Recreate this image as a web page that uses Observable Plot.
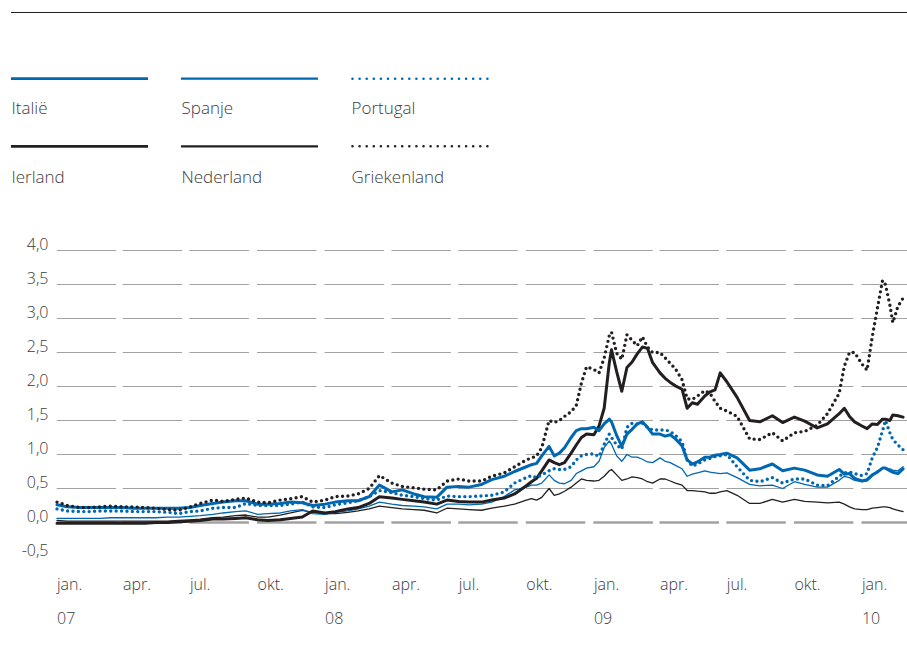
<!DOCTYPE html>
<html><head><meta charset="utf-8">
<script src="https://cdn.jsdelivr.net/npm/d3@7"></script>
<script src="https://cdn.jsdelivr.net/npm/@observablehq/plot@0.6"></script>
<style>
body{margin:0;background:#fff;}
#page{position:relative;width:907px;height:650px;overflow:hidden;font-family:"Open Sans",sans-serif;font-weight:300;color:#3c3c3c;}
#toprule{position:absolute;left:11px;top:12px;width:896px;height:0;border-top:1.2px solid #231f20;}
#legend{position:absolute;left:0;top:0;}
#chart{position:absolute;left:0;top:230px;}
</style></head><body>
<div id="page"><div id="toprule"></div><div id="legend"></div><div id="chart"></div></div>
<script>
// ---- data ----
const dates = [
 "2007-01-01","2007-01-15","2007-02-01","2007-02-15","2007-03-01","2007-03-15","2007-04-01","2007-04-15","2007-05-01","2007-05-15","2007-06-01","2007-06-15","2007-07-01","2007-07-15","2007-08-01","2007-08-15","2007-09-01","2007-09-15","2007-10-01","2007-10-15","2007-11-01","2007-11-15","2007-12-01","2007-12-15",
 "2008-01-01","2008-01-15","2008-02-01","2008-02-15","2008-03-01","2008-03-15","2008-04-01","2008-04-15","2008-05-01","2008-05-15","2008-06-01","2008-06-15","2008-07-01","2008-07-15","2008-08-01","2008-08-15","2008-09-01","2008-09-15",
 "2008-10-01","2008-10-08","2008-10-15","2008-10-22","2008-11-01","2008-11-08","2008-11-15","2008-11-22","2008-12-01","2008-12-08","2008-12-15","2008-12-22",
 "2009-01-01","2009-01-08","2009-01-15","2009-01-22","2009-01-25","2009-02-01","2009-02-08","2009-02-15","2009-02-22","2009-03-01","2009-03-08","2009-03-15","2009-03-22","2009-04-01","2009-04-08","2009-04-15","2009-04-22","2009-05-01","2009-05-08","2009-05-15","2009-05-22","2009-06-01","2009-06-08","2009-06-15","2009-06-22",
 "2009-07-01","2009-07-15","2009-08-01","2009-08-15","2009-09-01","2009-09-15","2009-10-01","2009-10-15","2009-11-01","2009-11-15",
 "2009-12-01","2009-12-08","2009-12-15","2009-12-22",
 "2010-01-01","2010-01-08","2010-01-15","2010-01-22","2010-01-29","2010-02-02","2010-02-08","2010-02-12","2010-02-19","2010-02-26"
];
const italie = [
 0.26,0.23,0.22,0.22,0.22,0.22,0.22,0.21,0.21,0.21,0.21,0.21,0.22,0.25,0.28,0.30,0.32,0.32,0.27,0.27,0.28,0.30,0.29,0.25,
 0.27,0.30,0.32,0.32,0.38,0.55,0.45,0.48,0.42,0.38,0.37,0.52,0.53,0.52,0.56,0.63,0.68,0.75,
 0.82,0.85,0.87,0.98,1.12,0.98,1.02,1.10,1.25,1.35,1.38,1.38,
 1.40,1.35,1.45,1.52,1.48,1.28,1.12,1.30,1.37,1.45,1.48,1.40,1.30,1.30,1.27,1.29,1.23,1.13,0.92,0.86,0.89,0.96,0.96,0.99,1.00,
 1.02,0.95,0.77,0.79,0.86,0.76,0.80,0.77,0.70,0.68,
 0.78,0.71,0.72,0.65,
 0.61,0.63,0.70,0.74,0.80,0.80,0.76,0.74,0.72,0.79
];
const spanje = [
 0.06,0.06,0.06,0.06,0.06,0.07,0.07,0.07,0.07,0.07,0.08,0.08,0.09,0.10,0.12,0.14,0.16,0.17,0.12,0.13,0.14,0.17,0.19,0.13,
 0.12,0.15,0.17,0.20,0.24,0.30,0.27,0.25,0.24,0.23,0.20,0.27,0.27,0.26,0.27,0.30,0.38,0.48,
 0.52,0.55,0.55,0.58,0.70,0.62,0.58,0.57,0.62,0.72,0.76,0.80,
 0.82,0.90,1.10,1.20,1.15,0.98,0.90,1.00,0.96,0.96,0.93,0.89,0.88,0.95,0.90,0.88,0.84,0.79,0.68,0.71,0.73,0.76,0.74,0.73,0.72,
 0.73,0.66,0.56,0.54,0.55,0.50,0.60,0.56,0.52,0.52,
 0.62,0.68,0.66,0.62,
 0.60,0.61,0.68,0.76,0.80,0.80,0.79,0.77,0.76,0.82
];
const portugal = [
 0.20,0.17,0.16,0.16,0.17,0.17,0.17,0.16,0.16,0.16,0.15,0.13,0.16,0.17,0.21,0.22,0.22,0.28,0.25,0.25,0.25,0.27,0.30,0.23,
 0.22,0.26,0.29,0.32,0.38,0.47,0.44,0.40,0.38,0.35,0.33,0.39,0.38,0.38,0.39,0.40,0.45,0.58,
 0.66,0.69,0.66,0.70,0.76,0.79,0.78,0.78,0.82,0.92,0.98,1.00,
 1.01,0.97,1.15,1.30,1.25,1.14,1.08,1.40,1.46,1.45,1.46,1.40,1.36,1.36,1.36,1.34,1.28,1.19,0.92,0.83,0.86,0.92,0.94,0.97,0.98,
 1.00,0.82,0.62,0.60,0.66,0.58,0.64,0.64,0.55,0.54,
 0.68,0.73,0.74,0.72,
 0.69,0.72,0.95,1.10,1.35,1.50,1.32,1.22,1.14,1.07
];
const ierland = [
 -0.01,-0.01,-0.01,-0.01,-0.01,-0.01,-0.01,-0.01,-0.01,0.00,0.00,0.01,0.02,0.03,0.05,0.05,0.06,0.07,0.04,0.03,0.04,0.06,0.08,0.17,
 0.14,0.16,0.20,0.22,0.28,0.38,0.36,0.34,0.32,0.30,0.27,0.33,0.31,0.30,0.30,0.33,0.36,0.42,
 0.54,0.60,0.65,0.76,0.92,0.88,0.85,0.88,1.02,1.14,1.25,1.30,
 1.29,1.42,1.68,2.35,2.54,2.22,1.93,2.28,2.36,2.48,2.58,2.56,2.35,2.20,2.12,2.06,2.01,1.96,1.68,1.76,1.74,1.86,1.92,1.95,2.20,
 2.07,1.84,1.50,1.48,1.57,1.47,1.55,1.49,1.39,1.45,
 1.60,1.68,1.56,1.48,
 1.42,1.38,1.45,1.44,1.52,1.52,1.50,1.58,1.57,1.55
];
const nederland = [
 0.03,0.02,0.02,0.02,0.02,0.02,0.02,0.02,0.02,0.02,0.02,0.03,0.04,0.05,0.07,0.08,0.10,0.11,0.08,0.08,0.11,0.14,0.18,0.15,
 0.13,0.13,0.15,0.17,0.20,0.24,0.22,0.20,0.19,0.18,0.14,0.21,0.20,0.19,0.18,0.21,0.24,0.27,
 0.33,0.35,0.33,0.37,0.50,0.40,0.42,0.46,0.52,0.58,0.64,0.62,
 0.61,0.62,0.68,0.76,0.78,0.70,0.62,0.64,0.67,0.66,0.64,0.60,0.58,0.64,0.64,0.61,0.58,0.55,0.47,0.47,0.46,0.45,0.43,0.43,0.45,
 0.47,0.40,0.28,0.28,0.34,0.30,0.34,0.31,0.30,0.29,
 0.30,0.27,0.23,0.20,
 0.19,0.19,0.21,0.22,0.23,0.23,0.22,0.20,0.18,0.16
];
const griekenland = [
 0.30,0.25,0.22,0.22,0.23,0.24,0.23,0.23,0.22,0.21,0.19,0.18,0.23,0.28,0.33,0.31,0.34,0.36,0.30,0.29,0.33,0.35,0.38,0.30,
 0.33,0.38,0.39,0.42,0.50,0.69,0.58,0.53,0.51,0.49,0.48,0.61,0.64,0.61,0.61,0.68,0.73,0.82,
 0.92,0.95,0.98,1.10,1.50,1.47,1.50,1.56,1.63,1.72,2.05,2.29,
 2.25,2.20,2.42,2.75,2.80,2.49,2.40,2.76,2.68,2.60,2.73,2.58,2.50,2.50,2.42,2.34,2.26,2.10,1.82,1.81,1.86,1.94,1.90,1.78,1.68,
 1.64,1.56,1.23,1.22,1.32,1.20,1.32,1.34,1.43,1.60,
 1.90,2.30,2.50,2.50,
 2.33,2.24,2.73,3.15,3.56,3.50,3.20,2.94,3.18,3.30
];
const yTicks = [-0.5, 0.0, 0.5, 1.0, 1.5, 2.0, 2.5, 3.0, 3.5, 4.0];
const monthLabels = ["jan.", "apr.", "jul.", "okt."];
const yearLabels = ["07", "08", "09", "10"];
const seriesNames = ["Italië", "Spanje", "Portugal", "Ierland", "Nederland", "Griekenland"];

// ---- styles ----
const BLUE = "#0067b1", BLACK = "#231f20";
const styles = {
  "Italië":      {stroke: BLUE,  width: 3,   dotted: false},
  "Spanje":      {stroke: BLUE,  width: 1.3, dotted: false},
  "Portugal":    {stroke: BLUE,  width: 3.4, dotted: true},
  "Ierland":     {stroke: BLACK, width: 3,   dotted: false},
  "Nederland":   {stroke: BLACK, width: 1.3, dotted: false},
  "Griekenland": {stroke: BLACK, width: 3.4, dotted: true}
};
const valuesBy = {"Italië": italie, "Spanje": spanje, "Portugal": portugal, "Ierland": ierland, "Nederland": nederland, "Griekenland": griekenland};

const parse = d3.utcParse("%Y-%m-%d");
const rows = vals => dates.map((d, i) => ({date: parse(d), value: vals[i]}));

// ---- legend ----
const legendW = {"Italië": 2.8, "Spanje": 2.2, "Ierland": 2.8, "Nederland": 2.2, "Portugal": 2.6, "Griekenland": 2.6};
const lsvg = d3.select("#legend").append("svg").attr("width", 907).attr("height", 200)
  .style("font-family", '"Open Sans", sans-serif').style("font-size", "17px").style("font-weight", 300);
seriesNames.forEach((name, i) => {
  const col = i % 3, row = Math.floor(i / 3);
  const x0 = 11 + col * 170, yl = 78.7 + row * 67.6, yt = 114 + row * 68.5;
  const st = styles[name];
  const ln = lsvg.append("line").attr("x1", st.dotted ? x0 + 1.5 : x0).attr("x2", x0 + 137)
    .attr("y1", yl).attr("y2", yl).attr("stroke", st.stroke).attr("stroke-width", legendW[name]);
  if (st.dotted) ln.attr("stroke-dasharray", "0,7.1").attr("stroke-linecap", "round");
  lsvg.append("text").attr("x", x0 + 0.5).attr("y", yt).attr("fill", "#3c3c3c").text(name);
});

// ---- chart ----
const start = parse("2007-01-01"), end = parse("2010-03-04");
const quarterStarts = d3.utcMonths(start, end, 3);
const jans = d3.utcYears(start, end);
const grid = yTicks.flatMap(v => quarterStarts.map(q => ({y: v, x1: q, x2: d3.utcDay.offset(q, 81)})));

const order = ["Nederland", "Spanje", "Ierland", "Italië", "Portugal", "Griekenland"];
const lineMarks = order.map(name => {
  const st = styles[name];
  return Plot.line(rows(valuesBy[name]), {
    x: "date", y: "value", stroke: st.stroke, strokeWidth: st.width,
    strokeLinejoin: "round", strokeLinecap: "round",
    strokeDasharray: st.dotted ? "0,5.4" : null
  });
});

const chart = Plot.plot({
  width: 907, height: 420,
  marginLeft: 56.5, marginRight: 0, marginTop: 20, marginBottom: 94,
  x: {type: "utc", domain: [start, end]},
  y: {domain: [-0.5, 4.0]},
  style: {fontFamily: '"Open Sans", sans-serif', fontSize: "16px", fontWeight: 300, color: "#3c3c3c", background: "white", overflow: "hidden"},
  marks: [
    Plot.ruleY(grid.filter(d => d.y !== 0), {y: "y", x1: "x1", x2: "x2", stroke: "#a2a2a2", strokeWidth: 1.1, clip: true}),
    Plot.ruleY(grid.filter(d => d.y === 0), {y: "y", x1: "x1", x2: "x2", stroke: "#a2a2a2", strokeWidth: 2.4, clip: true}),
    Plot.axisY(yTicks, {tickSize: 0, tickPadding: 8.5, dy: -5.5, label: null,
      tickFormat: d => d.toFixed(1).replace(".", ","), fontSize: 16}),
    Plot.axisX(quarterStarts, {tickSize: 0, tickPadding: 22, textAnchor: "start", label: null,
      tickFormat: d => monthLabels[d.getUTCMonth() / 3], fontSize: 16}),
    Plot.axisX(jans, {tickSize: 0, tickPadding: 56, textAnchor: "start", label: null,
      tickFormat: d => yearLabels[d.getUTCFullYear() - 2007], fontSize: 16}),
    ...lineMarks
  ]
});
document.getElementById("chart").appendChild(chart);
</script>
</body></html>
